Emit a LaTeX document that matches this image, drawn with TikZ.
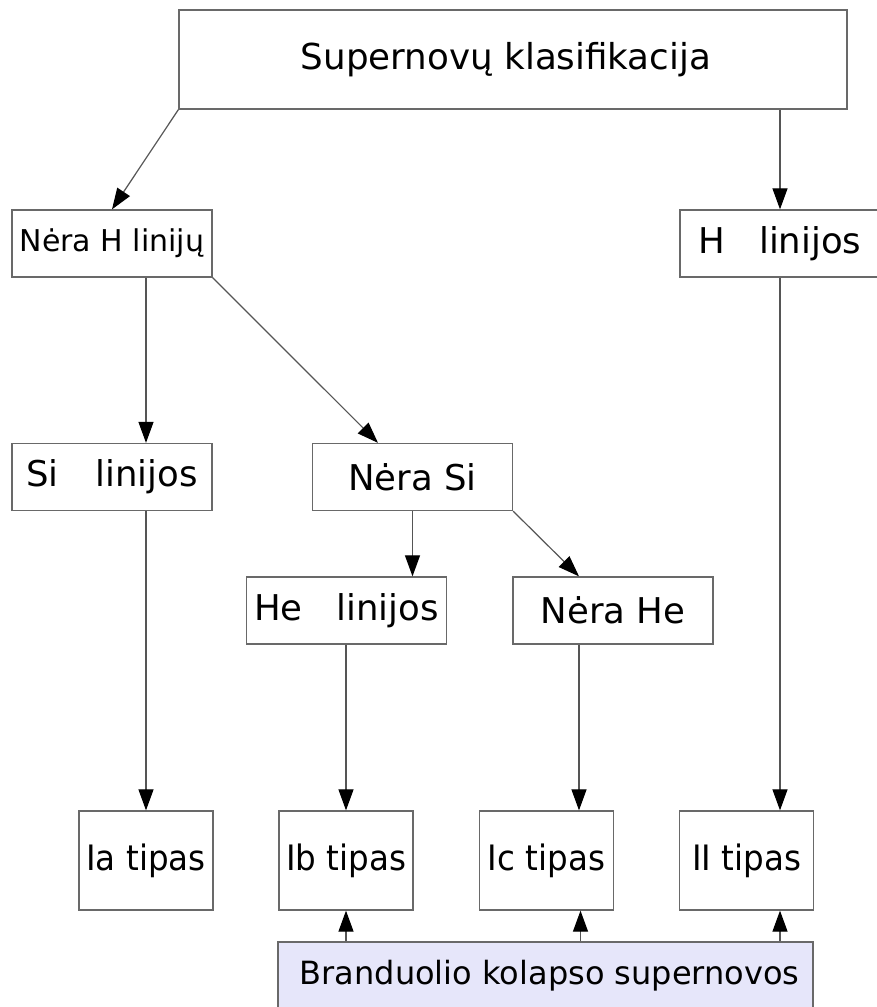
\documentclass[tikz,border=0pt]{standalone}
\usepackage{graphicx}
\usepackage{fontspec}
\setmainfont{DejaVu Sans}
\usetikzlibrary{arrows.meta}
\definecolor{boxline}{RGB}{105,105,105}
\definecolor{lineg}{RGB}{85,85,85}
\definecolor{lav}{RGB}{230,230,250}
\newcommand{\narrow}[1]{\scalebox{0.93}[1]{#1}}
\begin{document}
\begin{tikzpicture}[x=1pt,y=-1pt,
  box/.style={draw=boxline, line width=1.3pt, rectangle, inner sep=0pt, anchor=center, align=center,
    minimum width=200pt, minimum height=67pt, font=\fontsize{35.5}{42}\selectfont},
  tbox/.style={box, minimum width=134pt, minimum height=99pt, font=\fontsize{35}{42}\selectfont},
  arr/.style={draw=lineg, line width=1.2pt, -{Triangle[length=21pt,width=15pt,color=black]}}]
\useasboundingbox (0,0) rectangle (876,1007);
% boxes
\node[box, minimum width=668pt, minimum height=99pt, font=\fontsize{35.7}{42}\selectfont] (top) at (513,59.5) {\hspace*{-14pt}Supernovų klasifikacija};
\node[box, font=\fontsize{30}{36}\selectfont] (nh) at (112,243.5) {Nėra H linijų};
\node[box] (hl) at (780,243.5) {H\hspace{34pt}linijos};
\node[box] (si) at (112,477) {Si\hspace{37pt}linijos};
\node[box] (ns) at (412.5,477) {Nėra Si};
\node[box] (hel) at (346.5,610.5) {He\hspace{34pt}linijos};
\node[box] (nhe) at (613,610.5) {Nėra He};
\node[tbox] (ia) at (146,860.5) {\narrow{Ia tipas}};
\node[tbox] (ib) at (346,860.5) {\narrow{Ib tipas}};
\node[tbox] (ic) at (546.5,860.5) {\narrow{Ic tipas}};
\node[tbox] (ii) at (746.5,860.5) {\narrow{II tipas}};
\node[box, fill=lav, minimum width=535pt, minimum height=68pt, font=\fontsize{32}{38}\selectfont] (bk) at (545.5,976) {\hspace*{8pt}Branduolio kolapso supernovos};
% helper coordinates
\coordinate (nsin) at ([xshift=-34.5pt]ns.north);
\coordinate (nhex) at ([xshift=-34pt]nhe.north);
\coordinate (icx) at ([xshift=34pt]ic.south);
% connectors
\draw[arr] (top.south west) -- (nh.north);
\draw[arr] (hl.north |- top.south) -- (hl.north);
\draw[arr] (ia.north |- nh.south) -- (ia.north |- si.north);
\draw[arr] (nh.south east) -- (nsin);
\draw[arr] (ia.north |- si.south) -- (ia.north);
\draw[arr] (ns.south) -- (ns.south |- hel.north);
\draw[arr] (ns.south east) -- (nhex);
\draw[arr] (hel.south -| ib.north) -- (ib.north);
\draw[arr] (nhex |- nhe.south) -- (nhex |- ic.north);
\draw[arr] (hl.south) -- (hl.south |- ii.north);
\draw[arr] (ib.south |- bk.north) -- (ib.south);
\draw[arr] (icx |- bk.north) -- (icx);
\draw[arr] (hl.south |- bk.north) -- (hl.south |- ii.south);
\end{tikzpicture}
\end{document}
